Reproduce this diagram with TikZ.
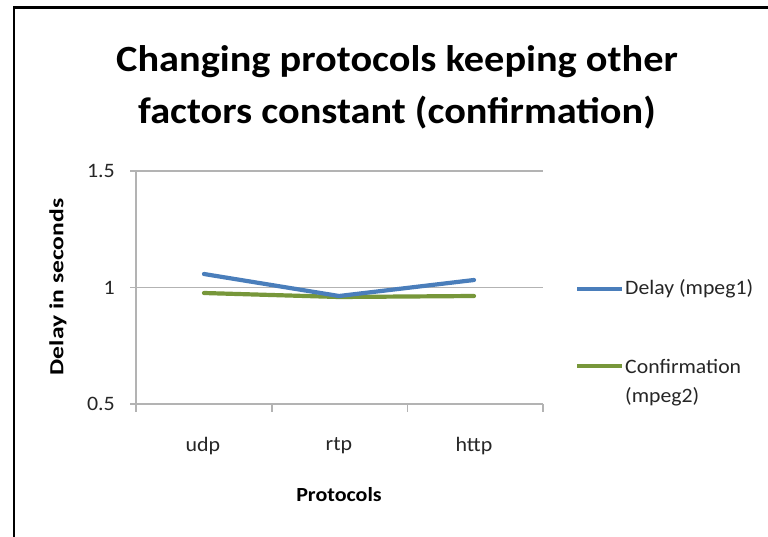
\documentclass[tikz,border=0pt]{standalone}
\usepackage{graphicx}
\usepackage{fontspec}
\setmainfont{Carlito}
\definecolor{seriesblue}{HTML}{4A7EBB}
\definecolor{seriesgreen}{HTML}{77973A}
\definecolor{gridgray}{HTML}{B3B3B3}
\definecolor{labeltext}{HTML}{262626}
\begin{document}
\begin{tikzpicture}[x=1pt,y=-1pt,
  grid/.style={draw=gridgray,line width=1.2pt},
  series/.style={line width=4.2pt,line cap=round,line join=round},
  ticklabel/.style={font=\fontsize{20.5}{22}\selectfont,text=labeltext,inner sep=0pt,xscale=1.07},
  axistitle/.style={font=\bfseries\fontsize{20}{22}\selectfont,inner sep=0pt},
  legendtext/.style={font=\fontsize{20.5}{24}\selectfont,text=labeltext,inner sep=0pt,anchor=west,xscale=1.06}]
\useasboundingbox (0,0) rectangle (768,537);
\fill[white] (0,0) rectangle (768,537);
% frame
\draw[line width=2.2pt] (14,537) -- (14,7.5) -- (768,7.5);
% title
\node[font=\bfseries\fontsize{37}{52}\selectfont,align=center,inner sep=0pt,xscale=1.09] (title) at (397,87)
  {Changing protocols keeping other\\factors constant (confirmation)};
% plot area
\coordinate (o) at (136,404);
\coordinate (top) at (136,171);
\draw[grid] (130,171) -- (543,171);
\draw[grid] (130,287.5) -- (543,287.5);
\draw[grid] (130,404) -- (543,404);
\draw[grid] (top) -- (o);
\foreach \x in {136,272,407.5,543} \draw[grid] (\x,404) -- (\x,412);
% tick labels
\node[ticklabel,anchor=east] (y15) at (115,171) {1.5};
\node[ticklabel,anchor=east] (y10) at (115,287.5) {1};
\node[ticklabel,anchor=east] (y05) at (115,404) {0.5};
\node[ticklabel] (cudp) at (203,446) {udp};
\node[ticklabel] (crtp) at (339,446) {rtp};
\node[ticklabel] (chttp) at (474,446) {http};
% axis titles
\node[axistitle,xscale=1.1] (xt) at (339,495) {Protocols};
\node[axistitle,rotate=90] (yt) at (58,287) {\scalebox{1.28}[1]{Delay in seconds}};
% data
\coordinate (d1) at (204,274);
\coordinate (d2) at (339,296);
\coordinate (d3) at (474,280);
\coordinate (c1) at (204,293);
\coordinate (c2) at (339,297);
\coordinate (c3) at (474,296);
\draw[series,seriesgreen] (c1) -- (c2) -- (c3);
\draw[series,seriesblue] (d1) -- (d2) -- (d3);
% legend
\coordinate (l1a) at (577,289);
\coordinate (l1b) at (622,289);
\coordinate (l2a) at (577,366);
\coordinate (l2b) at (622,366);
\draw[line width=4.2pt,seriesblue] (l1a) -- (l1b);
\draw[line width=4.2pt,seriesgreen] (l2a) -- (l2b);
\node[legendtext] (lg1) at (625,289) {Delay (mpeg1)};
\node[legendtext] (lg2) at (625,366) {Confirmation};
\node[legendtext] (lg2b) at (625,397) {(mpeg2)};
\end{tikzpicture}
\end{document}
